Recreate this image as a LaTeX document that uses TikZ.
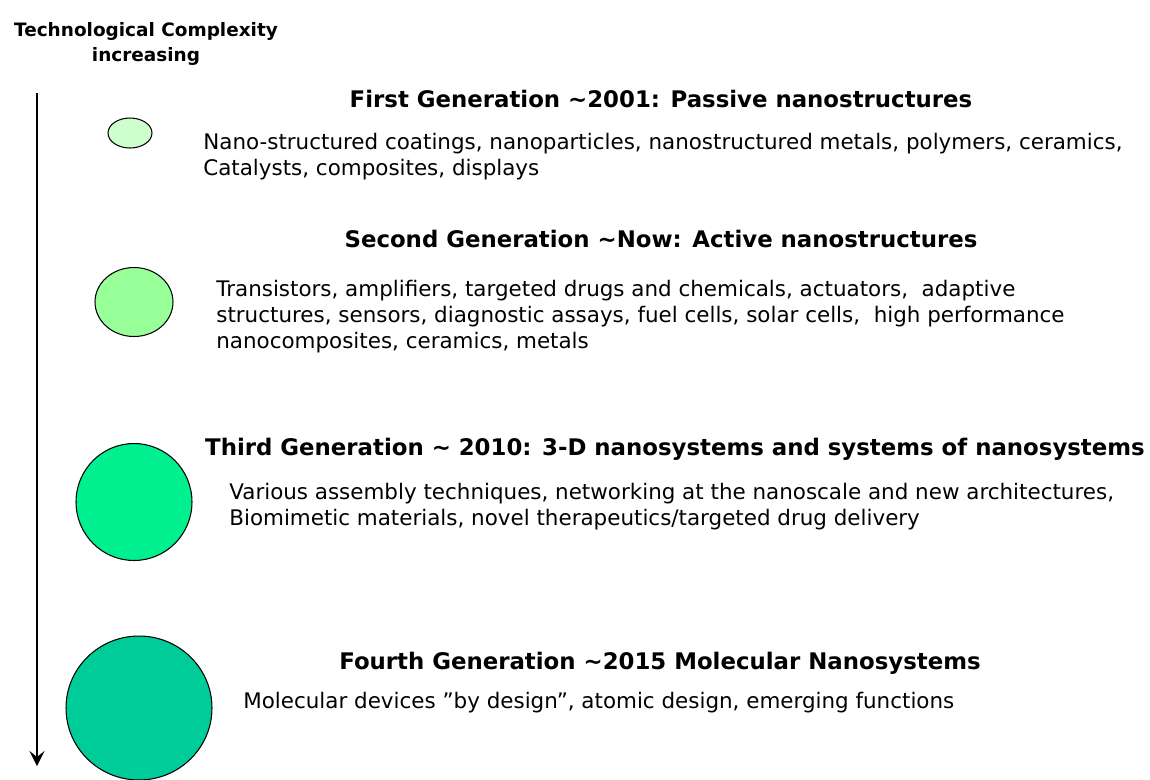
\documentclass[tikz,border=0pt]{standalone}
\usepackage{fontspec}
\setmainfont{DejaVu Sans}
\usetikzlibrary{shapes.geometric, arrows.meta, positioning}
\definecolor{genPale}{RGB}{204, 255, 204}
\definecolor{genLight}{RGB}{153, 255, 153}
\definecolor{genBright}{RGB}{0, 240, 143}
\definecolor{genDeep}{RGB}{0, 204, 153}

\begin{document}
\begin{tikzpicture}[
    x=0.02cm, y=-0.02cm,
    gencircle/.style={
        ellipse,
        draw=black,
        line width=0.6pt,
        inner sep=0pt
    },
    genhead/.style={
        anchor=base,
        inner sep=0pt,
        font=\fontsize{13}{16}\selectfont\bfseries
    },
    gentext/.style={
        anchor=base west,
        inner sep=0pt,
        align=left,
        font=\fontsize{12.2}{14.7}\selectfont
    },
    titletext/.style={
        align=center,
        inner sep=0pt,
        font=\fontsize{10.5}{14}\selectfont\bfseries
    }
]
\useasboundingbox (0,0) rectangle (1150,779);

% Title
\node[titletext] (title) at (146,44) {Technological Complexity\\increasing};

% Arrow
\coordinate (arrowtop) at (37,93);
\coordinate (arrowend) at (37,766);
\draw[line width=1.2pt, -{Stealth[length=0.3cm, width=0.3cm, inset=0.12cm]}] (arrowtop) -- (arrowend);

% Circles
\node[gencircle, fill=genPale, minimum width=0.88cm, minimum height=0.6cm] (c1) at (130,133) {};
\node[gencircle, fill=genLight, minimum width=1.56cm, minimum height=1.38cm] (c2) at (134,302) {};
\node[gencircle, fill=genBright, minimum width=2.32cm, minimum height=2.34cm] (c3) at (134,502) {};
\node[gencircle, fill=genDeep, minimum width=2.92cm, minimum height=2.88cm] (c4) at (139,708) {};

% First generation
\node[genhead] (h1) at (661,107) {First Generation \textasciitilde2001: Passive nanostructures};
\node[gentext] (t1) at (203,175) {Nano-structured coatings, nanoparticles, nanostructured metals, polymers, ceramics,\\
Catalysts, composites, displays};

% Second generation
\node[genhead] (h2) at (661,247) {Second Generation \textasciitilde Now: Active nanostructures};
\node[gentext] (t2) at (216,348) {Transistors, amplifiers, targeted drugs and chemicals, actuators,~ adaptive\\
structures, sensors, diagnostic assays, fuel cells, solar cells,~ high performance\\
nanocomposites, ceramics, metals};

% Third generation
\node[genhead] (h3) at (675,455) {Third Generation \textasciitilde{} 2010: 3-D nanosystems and systems of nanosystems};
\node[gentext] (t3) at (229,525) {Various assembly techniques, networking at the nanoscale and new architectures,\\
Biomimetic materials, novel therapeutics/targeted drug delivery};

% Fourth generation
\node[genhead] (h4) at (660,669) {Fourth Generation \textasciitilde2015 Molecular Nanosystems};
\node[gentext] (t4) at (243,708) {Molecular devices ''by design'', atomic design, emerging functions};

\end{tikzpicture}
\end{document}
